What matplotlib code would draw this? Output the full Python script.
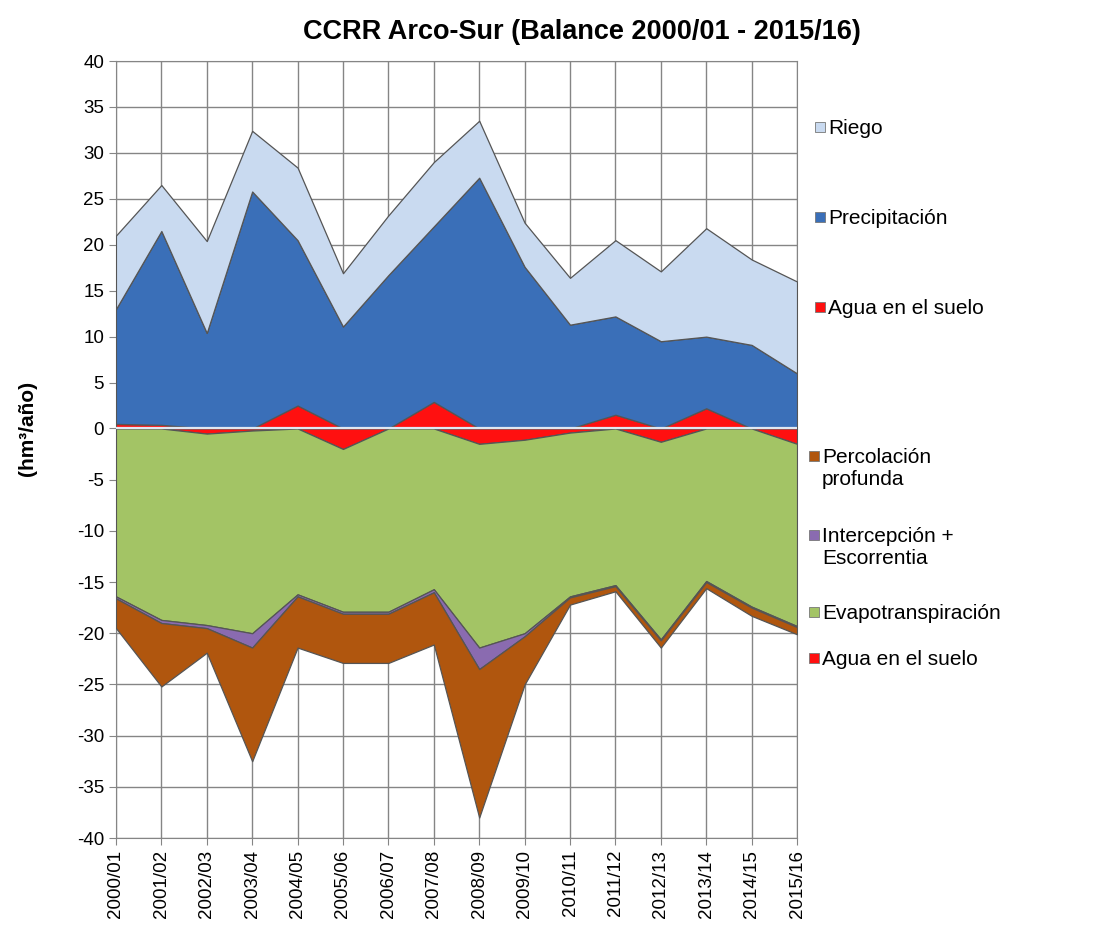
import numpy as np
import matplotlib
matplotlib.use('Agg')
import matplotlib.pyplot as plt
from matplotlib.patches import Rectangle

plt.rcParams['font.family'] = ['Liberation Sans', 'DejaVu Sans']
plt.rcParams['axes.unicode_minus'] = False

years = ["2000/01", "2001/02", "2002/03", "2003/04", "2004/05", "2005/06", "2006/07", "2007/08",
         "2008/09", "2009/10", "2010/11", "2011/12", "2012/13", "2013/14", "2014/15", "2015/16"]

# entradas (hm3/año)
agua_pos = [0.5, 0.4, 0, 0, 2.5, 0, 0, 2.9, 0, 0, 0, 1.5, 0, 2.2, 0, 0]
precipitacion = [12.5, 21.1, 10.4, 25.8, 18.0, 11.1, 16.7, 19.1, 27.3, 17.6, 11.3, 10.7, 9.5, 7.8, 9.1, 6.0]
riego = [8.0, 5.0, 10.0, 6.6, 7.9, 5.8, 6.5, 7.0, 6.2, 4.8, 5.1, 8.3, 7.6, 11.8, 9.3, 10.0]

# salidas (hm3/año)
agua_neg = [0, 0, -0.5, -0.2, 0, -2.0, 0, 0, -1.5, -1.1, -0.4, 0, -1.3, 0, 0, -1.5]
evapotranspiracion = [-16.4, -18.7, -18.7, -19.8, -16.2, -15.9, -17.9, -15.7, -19.9, -18.9, -16.0, -15.3, -19.3, -14.9, -17.4, -17.8]
intercepcion = [-0.2, -0.3, -0.3, -1.4, -0.2, -0.2, -0.2, -0.3, -2.1, -0.3, -0.1, -0.1, -0.1, -0.1, -0.1, -0.1]
percolacion = [-2.9, -6.2, -2.4, -11.1, -5.0, -4.8, -4.8, -5.1, -14.5, -4.7, -0.7, -0.5, -0.7, -0.6, -0.8, -0.7]

c_riego = '#c9daf0'
c_precip = '#3a6fb8'
c_agua = '#ff1010'
c_evap = '#a3c465'
c_inter = '#8a6bb0'
c_perc = '#b0560e'

fig = plt.figure(figsize=(10.98, 9.36), dpi=100)
ax = fig.add_axes([0.1056, 0.1047, 0.6203, 0.8301])

# negative half of the axis is drawn a bit taller than the positive one
k = 409.0 / 367.0
def fwd(y):
    y = np.asarray(y, dtype=float)
    return np.where(y >= 0, y, y * k)
def inv(y):
    y = np.asarray(y, dtype=float)
    return np.where(y >= 0, y, y / k)
ax.set_yscale('function', functions=(fwd, inv))

x = np.arange(len(years))

def stack(series, colors):
    base = np.zeros(len(x))
    for vals, col in zip(series, colors):
        top = base + np.array(vals)
        ax.fill_between(x, base, top, color=col, edgecolor='#555555', linewidth=0.9, zorder=3)
        base = top

stack([agua_pos, precipitacion, riego], [c_agua, c_precip, c_riego])
stack([agua_neg, evapotranspiracion, intercepcion, percolacion], [c_agua, c_evap, c_inter, c_perc])
ax.axhline(0, color='#dfe8f2', lw=1.6, zorder=4)

ax.set_xlim(0, len(years) - 1)
ax.set_ylim(-40, 40)
ax.set_yticks(np.arange(-40, 41, 5))
ax.set_xticks(x)
ax.set_xticklabels(years, rotation=90)
ax.grid(True, color='#858585', lw=1.0, zorder=0)
ax.set_axisbelow(True)
for s in ax.spines.values():
    s.set_color('#858585')
ax.tick_params(axis='both', colors='#858585', labelcolor='black', labelsize=13.5, length=5)

fig.text(28 / 1098, 1 - 428 / 936, '(hm³/año)', fontsize=15, fontweight='bold',
         rotation=90, ha='center', va='center')
fig.text(582 / 1098, 1 - 32 / 936, 'CCRR Arco-Sur (Balance 2000/01 - 2015/16)',
         fontsize=19.5, fontweight='bold', ha='center', va='center')

# leyenda
W, H = 1098.0, 936.0
entries = [
    ("Riego", c_riego, 815, 127),
    ("Precipitación", c_precip, 815, 217),
    ("Agua en el suelo", c_agua, 815, 307),
    ("Percolación\nprofunda", c_perc, 809, 456),
    ("Intercepción +\nEscorrentia", c_inter, 809, 535),
    ("Evapotranspiración", c_evap, 809, 612),
    ("Agua en el suelo", c_agua, 809, 658),
]
for label, col, px, py in entries:
    fig.patches.append(Rectangle(((px) / W, 1 - (py + 5) / H), 10 / W, 10 / H,
                                 transform=fig.transFigure, facecolor=col,
                                 edgecolor='#777777', lw=0.6))
    fig.text((px + 13) / W, 1 - (py - 8) / H, label, fontsize=15, va='top', ha='left',
             linespacing=1.2)

fig.savefig('out.png', dpi=100)
